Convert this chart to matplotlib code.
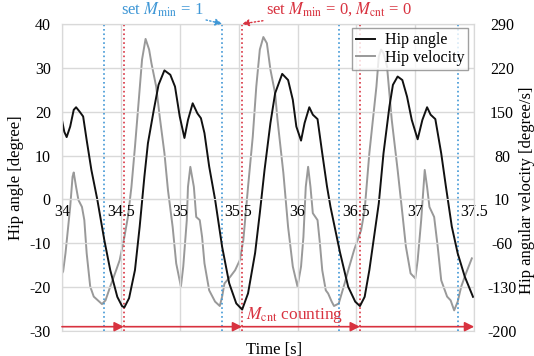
import matplotlib
matplotlib.use("Agg")
import matplotlib.pyplot as plt

plt.rcParams['font.family'] = ['Liberation Serif', 'DejaVu Serif']
plt.rcParams['mathtext.fontset'] = 'stix'
plt.rcParams['axes.unicode_minus'] = False

# hip angle [degree]
t_angle = [34.00, 34.02, 34.04, 34.07, 34.10, 34.12, 34.15, 34.18, 34.21, 34.25,
           34.30, 34.36, 34.41, 34.47, 34.51, 34.53, 34.57, 34.62, 34.66, 34.70,
           34.73, 34.78, 34.82, 34.87, 34.92, 34.96, 35.00, 35.04, 35.07, 35.11,
           35.15, 35.18, 35.21, 35.25, 35.30, 35.36, 35.42, 35.48, 35.53, 35.58,
           35.64, 35.68, 35.72, 35.77, 35.81, 35.87, 35.92, 35.96, 35.99, 36.03,
           36.06, 36.10, 36.13, 36.17, 36.21, 36.25, 36.28, 36.36, 36.43, 36.49,
           36.53, 36.57, 36.61, 36.65, 36.69, 36.73, 36.78, 36.81, 36.85, 36.89,
           36.93, 36.97, 37.02, 37.06, 37.10, 37.13, 37.17, 37.22, 37.26, 37.31,
           37.36, 37.42, 37.49]
angle = [18.1, 15.4, 14.2, 16.6, 20.4, 21.0, 20.0, 18.9, 13.5, 6.7,
         0.0, -9.3, -16.1, -22.2, -24.3, -24.6, -22.5, -16.1, -6.2, 5.2,
         12.8, 20.4, 26.1, 29.4, 28.4, 25.7, 18.9, 14.0, 18.1, 21.9,
         19.6, 18.5, 15.1, 7.5, 0.0, -10.8, -19.1, -23.7, -25.1, -21.4,
         -12.2, -3.1, 6.7, 17.4, 24.2, 28.6, 27.2, 22.7, 16.6, 13.4,
         17.4, 21.0, 19.3, 18.3, 10.5, 3.0, -1.7, -12.0, -19.9, -23.3,
         -24.3, -22.2, -16.1, -8.5, -0.9, 10.5, 21.1, 26.1, 28.0, 27.2,
         23.4, 18.1, 13.7, 18.1, 21.0, 19.3, 18.3, 10.5, 2.9, -6.2,
         -12.3, -17.6, -22.2]

# hip angular velocity [degree/s]
t_vel = [34.00, 34.01, 34.03, 34.07, 34.09, 34.10, 34.12, 34.14, 34.17, 34.19,
         34.21, 34.24, 34.27, 34.34, 34.37, 34.41, 34.46, 34.49, 34.53, 34.56,
         34.59, 34.62, 34.65, 34.68, 34.71, 34.74, 34.76, 34.80, 34.83, 34.87,
         34.90, 34.94, 34.97, 35.01, 35.03, 35.06, 35.07, 35.09, 35.12, 35.14,
         35.17, 35.19, 35.21, 35.25, 35.30, 35.34, 35.36, 35.38, 35.43, 35.47,
         35.51, 35.54, 35.58, 35.62, 35.65, 35.68, 35.71, 35.74, 35.77, 35.81,
         35.83, 35.88, 35.92, 35.96, 36.00, 36.03, 36.05, 36.07, 36.09, 36.11,
         36.13, 36.17, 36.19, 36.21, 36.24, 36.26, 36.29, 36.31, 36.35, 36.40,
         36.44, 36.48, 36.51, 36.54, 36.57, 36.61, 36.64, 36.67, 36.69, 36.71,
         36.73, 36.76, 36.80, 36.85, 36.89, 36.92, 36.96, 37.00, 37.02, 37.05,
         37.07, 37.08, 37.10, 37.12, 37.16, 37.19, 37.22, 37.27, 37.30, 37.33,
         37.36, 37.39, 37.43, 37.48]
vel = [-108, -105, -76, -2, 46, 53, 30, 9, -2, -23,
       -76, -129, -145, -157, -151, -129, -103, -87, -50, -18,
       30, 94, 163, 233, 266, 249, 227, 190, 142, 84,
       25, -34, -92, -129, -97, -23, 30, 62, 30, -18,
       -23, -50, -92, -135, -153, -160, -145, -124, -113, -103,
       -87, -55, 30, 110, 190, 249, 269, 259, 217, 179,
       137, 52, -34, -97, -129, -97, -50, 30, 62, 30,
       -12, -23, -60, -103, -135, -140, -153, -160, -156, -124,
       -97, -71, -55, -39, -7, 84, 137, 190, 238, 249,
       243, 222, 137, 57, -12, -65, -108, -116, -87, -23,
       30, 57, 30, -2, -18, -65, -119, -145, -151, -167,
       -153, -129, -108, -84]

t_min_set = [34.36, 35.36, 36.35, 37.36]   # set M_min = 1
t_reset = [34.525, 35.53, 36.53]           # set M_min = 0, M_cnt = 0

blue = '#3f97d6'
red = '#d8323f'
grid_c = '#d9d9d9'

fig = plt.figure(figsize=(5.34, 3.56), dpi=100)
ax = fig.add_axes([0.116, 0.070, 0.772, 0.863])
ax2 = ax.twinx()

ax.set_xlim(34, 37.5)
ax.set_ylim(-30, 40)
ax2.set_ylim(-200, 290)
ax.set_yticks(range(-30, 41, 10))
ax2.set_yticks(range(-200, 291, 70))
ax.set_xticks([34, 34.5, 35, 35.5, 36, 36.5, 37, 37.5])
ax.set_xticklabels(['34', '34.5', '35', '35.5', '36', '36.5', '37', '37.5'])

ax.grid(True, color=grid_c, linewidth=1.0)
ax.set_axisbelow(True)
for a in (ax, ax2):
    for s in a.spines.values():
        s.set_color(grid_c)
ax.spines['bottom'].set_position(('data', 0))
ax.tick_params(axis='x', length=0, pad=3, labelsize=11.5)
ax.tick_params(axis='y', length=0, pad=8, labelsize=11.5)
ax2.tick_params(axis='y', length=0, pad=20, labelsize=11.5)
for lb in ax2.get_yticklabels():
    lb.set_horizontalalignment('center')

for tb in t_min_set:
    ax.axvline(tb, color=blue, linestyle=':', linewidth=1.2, zorder=1)
for tr in t_reset:
    ax.axvline(tr, color=red, linestyle=':', linewidth=1.2, zorder=1)

ax2.plot(t_vel, vel, color='#999999', linewidth=1.4, label='Hip velocity')
l1, = ax.plot(t_angle, angle, color='#111111', linewidth=1.4, label='Hip angle')
ax.set_zorder(ax2.get_zorder() + 1)
ax.patch.set_visible(False)

# M_cnt counting arrow along the bottom
y_arr = -29
seg = [34.0] + t_reset + [37.5]
for a0, a1 in zip(seg[:-1], seg[1:]):
    ax.annotate('', xy=(a1, y_arr), xytext=(a0, y_arr),
                arrowprops=dict(arrowstyle='-|>', color=red, lw=1.2,
                                shrinkA=0, shrinkB=0, mutation_scale=14))
ax.text(35.56, -26.3, r'$M_{\mathrm{cnt}}$ counting', color=red,
        fontsize=12.5, ha='left', va='center')

# annotations at the top
ax.annotate(r'set $M_{\mathrm{min}}$ = 1', xy=(35.36, 40), xytext=(35.2, 43.3),
            color=blue, fontsize=12, ha='right', va='center', annotation_clip=False,
            arrowprops=dict(arrowstyle='-|>', color=blue, linestyle=':', lw=1.0,
                            shrinkA=0, shrinkB=0, mutation_scale=10))
ax.annotate(r'set $M_{\mathrm{min}}$ = 0, $M_{\mathrm{cnt}}$ = 0', xy=(35.53, 40),
            xytext=(35.73, 43.3), color=red, fontsize=12, ha='left', va='center',
            annotation_clip=False,
            arrowprops=dict(arrowstyle='-|>', color=red, linestyle=':', lw=1.0,
                            shrinkA=0, shrinkB=0, mutation_scale=10))

h2, lab2 = ax2.get_legend_handles_labels()
leg = ax.legend([l1] + h2, ['Hip angle'] + lab2, loc='upper right',
                bbox_to_anchor=(0.985, 0.985), fontsize=11.5, frameon=True,
                fancybox=False, edgecolor='#888888', handlelength=1.2,
                handletextpad=0.6, borderpad=0.25, labelspacing=0.1,
                borderaxespad=0)
leg.get_frame().set_linewidth(1.0)

ax.set_ylabel('Hip angle [degree]', fontsize=12, labelpad=4)
ax2.set_ylabel('Hip angular velocity [degree/s]', fontsize=12)
ax2.yaxis.set_label_coords(1.109, 0.459)
ax.text(0.515, -0.06, 'Time [s]', transform=ax.transAxes, fontsize=12,
        ha='center', va='center')

fig.savefig('out.png', dpi=100)
